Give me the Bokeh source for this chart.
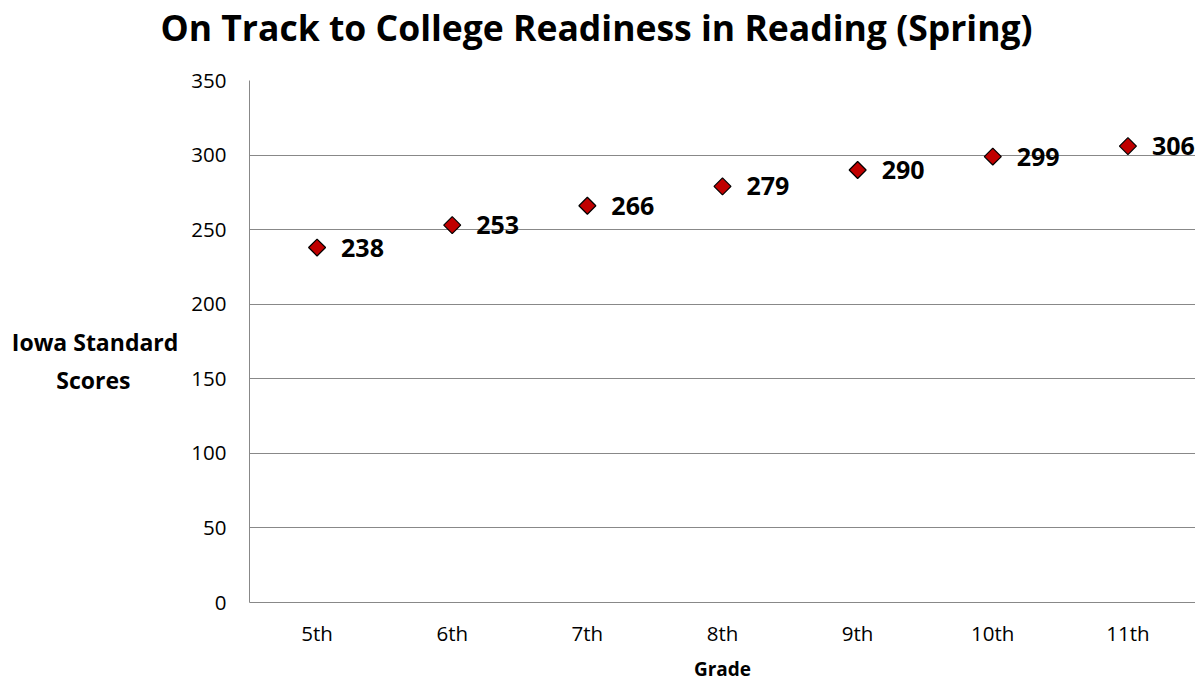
import math
from bokeh.plotting import figure
from bokeh.models import ColumnDataSource, FixedTicker, Title
from bokeh.core.properties import value
from bokeh.embed import file_html
from bokeh.resources import INLINE

grades = ["5th", "6th", "7th", "8th", "9th", "10th", "11th"]
scores = [238, 253, 266, 279, 290, 299, 306]
y_ticks = [0, 50, 100, 150, 200, 250, 300, 350]
title_text = "On Track to College Readiness in Reading (Spring)"
y_label_lines = ["Iowa Standard", "Scores"]
x_label = "Grade"

FONT = "Open Sans"
GRID = "#888888"

src = ColumnDataSource(dict(g=grades, s=scores, t=[str(v) for v in scores]))

p = figure(x_range=grades, y_range=(0, 350), frame_width=946, frame_height=522,
           min_border_left=249, min_border_right=0, min_border_top=80, min_border_bottom=75,
           output_backend="svg", toolbar_location=None)
p.outline_line_color = None
p.background_fill_color = "white"
p.border_fill_color = "white"

# main title (outermost panel) and a small spacer panel between it and the frame
p.title.text = title_text
p.title.align = "left"
p.title.offset = 160 - 249
p.title.vertical_align = "top"
p.title.standoff = 0
p.title.text_font = FONT
p.title.text_font_style = "bold"
p.title.text_font_size = "35.5px"
p.title.text_color = "black"
p.add_layout(Title(text=" ", text_font_size="1px", standoff=25), "above")

p.yaxis.ticker = FixedTicker(ticks=y_ticks)
p.ygrid.grid_line_color = GRID
p.ygrid.grid_line_width = 1
p.xgrid.grid_line_color = None

for ax in (p.xaxis[0], p.yaxis[0]):
    ax.axis_line_color = GRID
    ax.major_tick_line_color = None
    ax.minor_tick_line_color = None
    ax.major_label_text_font = FONT
    ax.major_label_text_font_size = "20.5px"
    ax.major_label_text_color = "black"

p.yaxis.major_label_standoff = 17
p.xaxis.major_label_standoff = 10
p.xaxis.axis_label = x_label
p.xaxis.axis_label_text_font = FONT
p.xaxis.axis_label_text_font_style = "bold"
p.xaxis.axis_label_text_font_size = "19px"
p.xaxis.axis_label_standoff = 6
p.xaxis.axis_label_text_color = "black"

# horizontal, two-line y-axis title; the second line is padded with
# no-break spaces so that it sits centred under the first one
pad = "\u00a0" * 8
p.yaxis.axis_label = "\n" + y_label_lines[0] + "\n" + y_label_lines[1] + pad
p.yaxis.axis_label_orientation = "horizontal"
p.yaxis.axis_label_text_font = FONT
p.yaxis.axis_label_text_font_style = "bold"
p.yaxis.axis_label_text_font_size = "23px"
p.yaxis.axis_label_text_color = "black"
p.yaxis.axis_label_standoff = 10

p.scatter("g", "s", source=src, marker="square", size=12, angle=math.pi / 4,
          fill_color="#C00000", line_color="black", line_width=1.2)
p.text("g", "s", text="t", source=src, x_offset=24, y_offset=0,
       text_baseline="middle", text_align="left",
       text_font=value(FONT), text_font_style="bold", text_font_size="25px",
       text_color="black")

open("out.html", "w").write(file_html(p, INLINE))
